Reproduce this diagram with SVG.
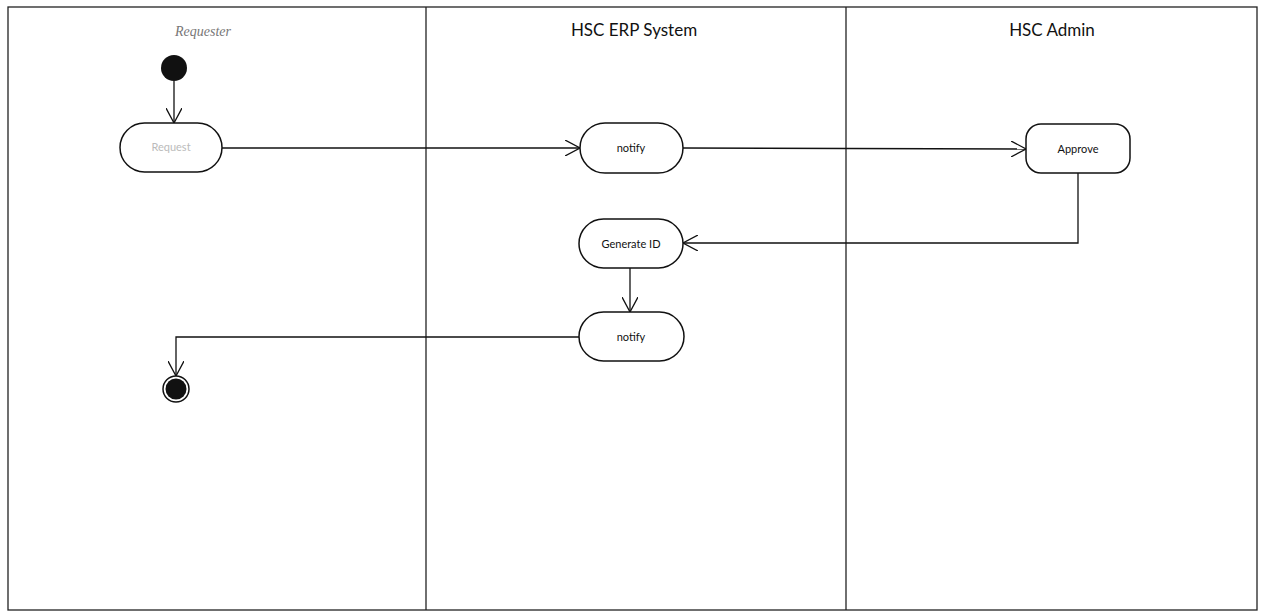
<svg xmlns="http://www.w3.org/2000/svg" width="1262" height="612" viewBox="0 0 1262 612">
<style>
.lane{fill:none;stroke:#222;stroke-width:1.3}
.title{font-family:Lato,"Open Sans",sans-serif;font-size:17px;fill:#111;text-anchor:middle}
.node{fill:#fff;stroke:#111;stroke-width:1.5}
.lbl{font-family:Lato,"Open Sans",sans-serif;font-size:11px;fill:#111;text-anchor:middle}
.edge{fill:none;stroke:#111;stroke-width:1.3}
</style>
<defs>
<marker id="arr" viewBox="0 0 16 16" refX="15" refY="8" markerWidth="16" markerHeight="16" markerUnits="userSpaceOnUse" orient="auto">
<path d="M0,0 L15,8 L0,16" fill="none" stroke="#111" stroke-width="1.3"/>
</marker>
</defs>
<rect width="1262" height="612" fill="#fff"/>
<g id="lanes">
<rect class="lane" x="8" y="7" width="1249" height="603"/>
<line class="lane" x1="426" y1="7" x2="426" y2="610"/>
<line class="lane" x1="846" y1="7" x2="846" y2="610"/>
<text class="title" x="203" y="36" style="font-family:'Liberation Serif',serif;font-style:italic;font-size:14px;fill:#777">Requester</text>
<text class="title" x="634" y="36">HSC ERP System</text>
<text class="title" x="1052" y="36">HSC Admin</text>
</g>
<g id="edges">
<line class="edge" x1="174" y1="81" x2="174" y2="123" marker-end="url(#arr)"/>
<line class="edge" x1="222" y1="148" x2="580" y2="148" marker-end="url(#arr)"/>
<line class="edge" x1="683" y1="148" x2="1026" y2="149" marker-end="url(#arr)"/>
<polyline class="edge" points="1078,173 1078,243 683,243" marker-end="url(#arr)"/>
<line class="edge" x1="630" y1="268" x2="630" y2="312" marker-end="url(#arr)"/>
<polyline class="edge" points="579,337 176,337 176,376" marker-end="url(#arr)"/>
</g>
<g id="start"><circle cx="174" cy="68" r="13" fill="#111"/></g>
<g id="request">
<rect class="node" x="120" y="123" width="102" height="49" rx="24.5"/>
<text class="lbl" x="171" y="151" style="fill:#bbb">Request</text>
</g>
<g id="notify1">
<rect class="node" x="580" y="123" width="103" height="50" rx="25"/>
<text class="lbl" x="631" y="152">notify</text>
</g>
<g id="approve">
<rect class="node" x="1026" y="124" width="104" height="49" rx="15"/>
<text class="lbl" x="1078" y="153">Approve</text>
</g>
<g id="generate">
<rect class="node" x="579" y="219" width="104" height="49" rx="24.5"/>
<text class="lbl" x="631" y="248">Generate ID</text>
</g>
<g id="notify2">
<rect class="node" x="579" y="312" width="105" height="49" rx="24.5"/>
<text class="lbl" x="631" y="341">notify</text>
</g>
<g id="end">
<circle cx="176" cy="389" r="13" fill="#fff" stroke="#111" stroke-width="1.5"/>
<circle cx="176" cy="389" r="10.5" fill="#111"/>
</g>
</svg>
